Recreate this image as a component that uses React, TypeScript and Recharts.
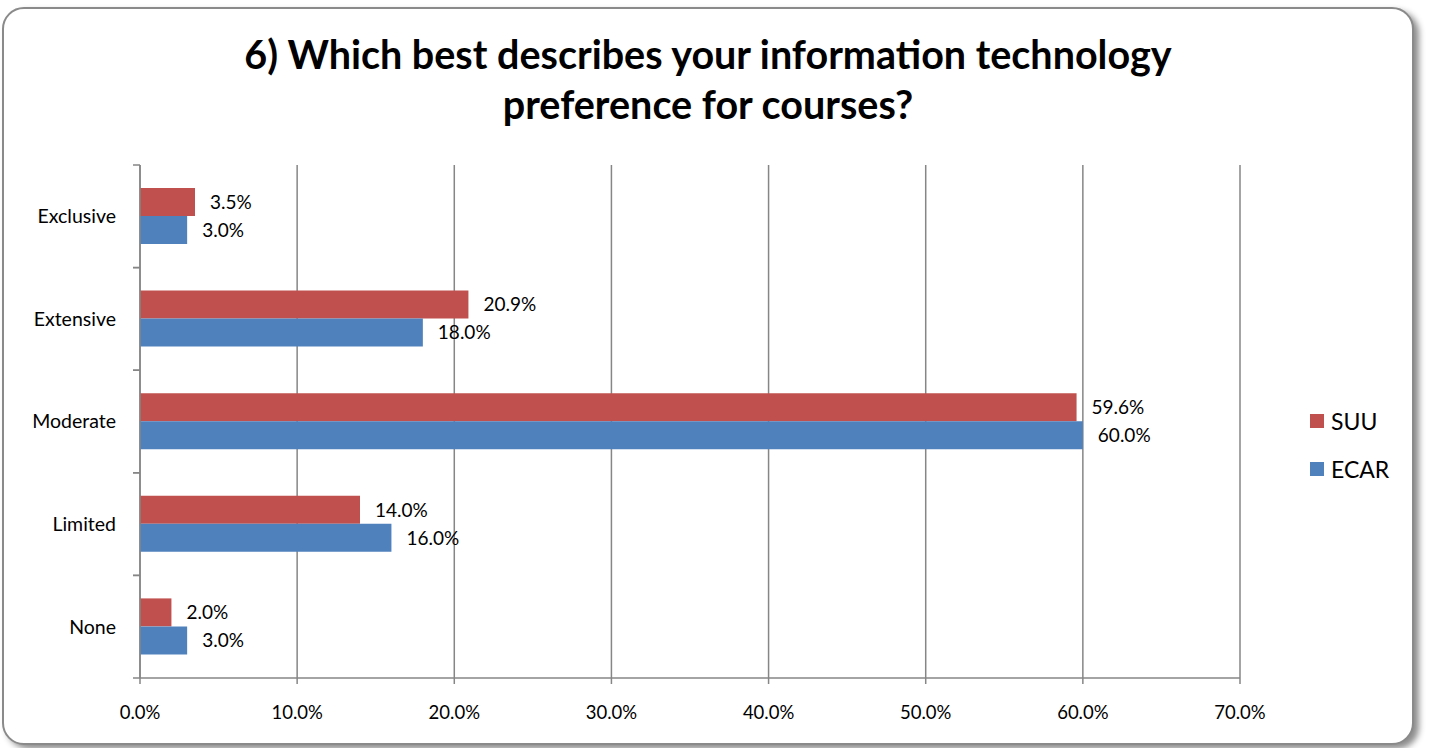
import { BarChart, Bar, XAxis, YAxis, CartesianGrid, LabelList } from 'recharts';

// categories top to bottom
const categories = ['Exclusive', 'Extensive', 'Moderate', 'Limited', 'None'];
const suu = [3.5, 20.9, 59.6, 14.0, 2.0];
const ecar = [3.0, 18.0, 60.0, 16.0, 3.0];
const xTicks = [0, 10, 20, 30, 40, 50, 60, 70];

const SUU_COLOR = '#C0504D';
const ECAR_COLOR = '#4F81BD';
const AXIS_COLOR = '#868686';
const FONT = 'Lato, "Open Sans", sans-serif';

const PLOT_LEFT = 140;
const PLOT_TOP = 165;
const PLOT_BOTTOM = 678;
const BAND = (PLOT_BOTTOM - PLOT_TOP) / categories.length;

const data = categories.map((name, i) => ({ name, SUU: suu[i], ECAR: ecar[i] }));

const pct = (v: number) => `${Number(v).toFixed(1)}%`;

// category label at band centre, tick marks at band edges (Excel style)
function CategoryTick({ y, payload }: any) {
  return (
    <g>
      <line x1={PLOT_LEFT - 7} x2={PLOT_LEFT} y1={y - BAND / 2} y2={y - BAND / 2} stroke={AXIS_COLOR} strokeWidth={1.5} />
      <line x1={PLOT_LEFT - 7} x2={PLOT_LEFT} y1={y + BAND / 2} y2={y + BAND / 2} stroke={AXIS_COLOR} strokeWidth={1.5} />
      <text x={116} y={y} dy="0.35em" textAnchor="end" fontSize={19.5} fill="#000" fontFamily={FONT}>
        {payload.value}
      </text>
    </g>
  );
}

function LegendBox() {
  const items = [
    { label: 'SUU', color: SUU_COLOR },
    { label: 'ECAR', color: ECAR_COLOR },
  ];
  return (
    <div style={{ position: 'absolute', left: 1310, top: 397, fontFamily: FONT, fontSize: 23 }}>
      {items.map((it) => (
        <div key={it.label} style={{ display: 'flex', alignItems: 'center', height: 48 }}>
          <span style={{ width: 14, height: 14, background: it.color, marginRight: 7, display: 'inline-block' }} />
          <span>{it.label}</span>
        </div>
      ))}
    </div>
  );
}

export default function App() {
  return (
    <div style={{ position: 'fixed', left: 0, top: 0, width: 1432, height: 748, background: '#fff', overflow: 'hidden' }}>
      <div
        style={{
          position: 'absolute', left: 2, top: 7, width: 1408, height: 734,
          border: '2px solid #8a8a8a', borderRadius: 22,
          boxShadow: '5px 4px 6px rgba(0,0,0,0.45)', background: '#fff',
        }}
      />
      <div
        style={{
          position: 'absolute', left: 0, top: 29, width: 1416, textAlign: 'center',
          fontFamily: FONT, fontWeight: 700, fontSize: 39.5, lineHeight: '50px', color: '#000',
        }}
      >
        6) Which best describes your information technology
        <br />
        preference for courses?
      </div>
      <div style={{ position: 'absolute', left: 0, top: 0 }}>
        <BarChart
          width={1432}
          height={748}
          data={data}
          layout="vertical"
          margin={{ top: PLOT_TOP, right: 192, bottom: 30, left: 0 }}
          barCategoryGap={23}
          barGap={0}
        >
          <CartesianGrid horizontal={false} stroke={AXIS_COLOR} strokeWidth={1.5} />
          <XAxis
            type="number"
            domain={[0, 70]}
            ticks={xTicks}
            tickFormatter={pct}
            height={40}
            stroke={AXIS_COLOR}
            strokeWidth={1.5}
            tickSize={6}
            tickMargin={22}
            tick={{ fill: '#000', fontSize: 18.5, fontFamily: FONT }}
            interval={0}
          />
          <YAxis
            type="category"
            dataKey="name"
            width={PLOT_LEFT}
            stroke={AXIS_COLOR}
            strokeWidth={1.5}
            tickLine={false}
            tick={<CategoryTick />}
            interval={0}
          />
          <Bar dataKey="SUU" fill={SUU_COLOR} isAnimationActive={false}>
            <LabelList dataKey="SUU" position="right" offset={15} formatter={pct} fill="#000" fontSize={19} fontFamily={FONT} />
          </Bar>
          <Bar dataKey="ECAR" fill={ECAR_COLOR} isAnimationActive={false}>
            <LabelList dataKey="ECAR" position="right" offset={15} formatter={pct} fill="#000" fontSize={19} fontFamily={FONT} />
          </Bar>
        </BarChart>
      </div>
      <LegendBox />
    </div>
  );
}
